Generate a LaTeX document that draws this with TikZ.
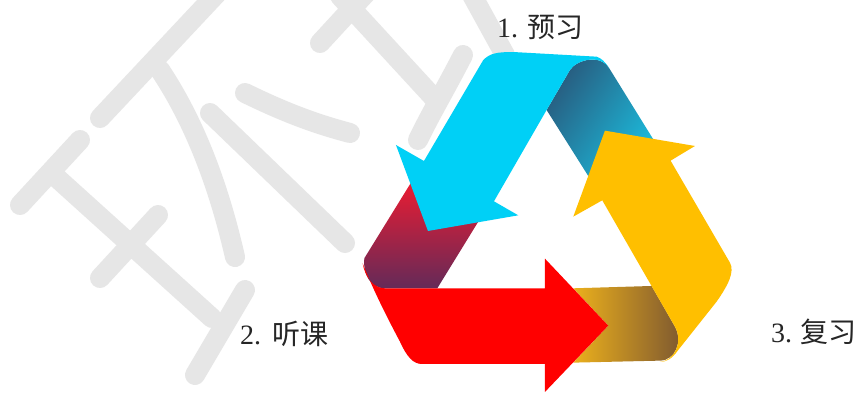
\documentclass[tikz,border=0pt]{standalone}
\usepackage{fontspec}
\setmainfont{Liberation Serif}
\newfontfamily\cjk{Noto Sans CJK SC}
\definecolor{wm}{HTML}{E6E6E6}
\definecolor{cyanb}{HTML}{00D0F6}
\definecolor{amber}{HTML}{FFBF00}
\definecolor{redb}{HTML}{FF0000}
\tikzset{
  wmstroke/.style={draw=wm,line width=20pt,line cap=round,line join=round},
  lab/.style={anchor=west,inner sep=0pt,font=\fontsize{28}{30}\selectfont,text=black!85}
}
\begin{document}
\begin{tikzpicture}[x=1pt,y=-1pt]
\useasboundingbox (0,0) rectangle (857,392);
\fill[white] (0,0) rectangle (857,392);
\clip (0,0) rectangle (857,392);
% watermark
\draw[wmstroke] (20,205) -- (80,140);
\draw[wmstroke] (100,118) -- (222,-12);
\draw[wmstroke] (57,178) -- (212,318);
\draw[wmstroke] (100,278) -- (158,215);
\draw[wmstroke] (245,290) -- (195,375);
\draw[wmstroke] (160,70) .. controls (200,130) and (222,200) .. (235,257);
\draw[wmstroke] (210,113) -- (345,243);
\draw[wmstroke] (245,93) .. controls (290,115) and (320,125) .. (350,133);
\draw[wmstroke] (320,43) -- (367,-8);
\draw[wmstroke] (340,-4) -- (433,97);
\draw[wmstroke] (463,55) .. controls (445,90) and (430,115) .. (418,140);
\draw[wmstroke] (472,-5) -- (505,55);
\begin{scope}[x=0.3333pt,y=-0.3333pt,shift={(1050,120)}]
% back folds with gradients
\shade[shading=axis,top color={rgb,255:red,40;green,90;blue,125},bottom color={rgb,255:red,28;green,185;blue,218},shading angle=55]
  (660,90) .. controls (680,60) and (750,40) .. (778,85) -- (910,298) -- (715,408) -- (590,210) -- cycle;
\shade[top color={rgb,255:red,235;green,28;blue,50},bottom color={rgb,255:red,100;green,42;blue,88}]
  (185,425) -- (43,655) .. controls (38,700) and (60,745) .. (105,745) -- (262,745) -- (385,545) -- (300,480) -- cycle;
\shade[shading=axis,left color={rgb,255:red,236;green,176;blue,28},right color={rgb,255:red,125;green,88;blue,48}]
  (670,745) -- (905,738) -- (975,860) .. controls (1000,905) and (975,962) .. (930,962) -- (670,968) -- (775,857) -- cycle;
% arrows
\fill[cyanb] (400,60) .. controls (420,40) and (440,36) .. (490,36) -- (740,50) .. controls (755,55) and (765,65) .. (778,85)
  .. controls (750,40) and (680,60) .. (660,90) -- (590,210) -- (432,484) -- (505,526) -- (234,573) -- (138,315) -- (222,363) -- cycle;
\fill[redb] (38,670) .. controls (70,750) and (110,830) .. (150,905) .. controls (170,950) and (190,972) .. (215,972)
  -- (585,972) -- (585,1056) -- (775,857) -- (585,656) -- (585,745) -- (105,745) .. controls (70,745) and (45,710) .. (38,670) -- cycle;
\fill[amber] (765,272) -- (1035,318) -- (962,362) -- (1140,668) .. controls (1155,695) and (1135,735) .. (1100,785)
  -- (985,930) .. controls (965,958) and (950,965) .. (930,966) .. controls (975,962) and (1000,905) .. (975,860) -- (757,481) -- (670,530) -- cycle;
\end{scope}
\node[lab] (preview) at (497,27) {1.\hspace{9pt}{\cjk 预习}};
\node[lab] (listen) at (240,334) {2.\hspace{11pt}{\cjk 听课}};
\node[lab] (review) at (771,332) {3.\hspace{8.5pt}{\cjk 复习}};
\end{tikzpicture}
\end{document}
